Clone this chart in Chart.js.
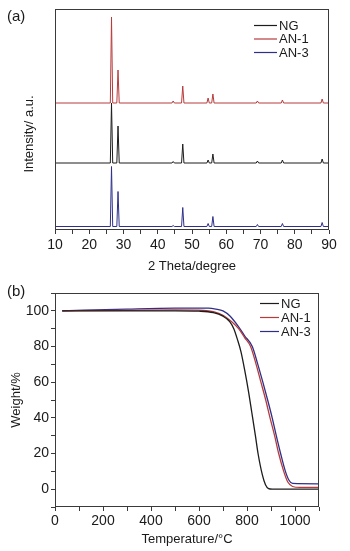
<!DOCTYPE html>
<html>
<head>
<meta charset="utf-8">
<script src="https://cdn.jsdelivr.net/npm/chart.js@4.4.1/dist/chart.umd.min.js"></script>
<style>
  body { margin: 0; background: #fff; width: 350px; height: 551px; position: relative; overflow: hidden;
         font-family: "Liberation Sans", Arial, sans-serif; }
  .panel { position: absolute; left: 0; width: 350px; }
  #wrapA { top: 0; height: 275px; }
  #wrapB { top: 275px; height: 276px; }
  .tag { position: absolute; left: 7px; font-size: 15px; color: #1a1a1a; line-height: 17px; }
</style>
</head>
<body>
<div class="panel" id="wrapA"><canvas id="xrdChart"></canvas></div>
<div class="panel" id="wrapB"><canvas id="tgaChart"></canvas></div>
<div class="tag" style="top:7px">(a)</div>
<div class="tag" style="top:282px">(b)</div>

<script>
// =====================
// DATA
// =====================
const seriesNames = ['NG', 'AN-1', 'AN-3'];

// (a) XRD: peak positions (2 theta) and peak heights above baseline (a.u.)
const twoTheta = [26.5, 28.4, 44.5, 47.3, 54.7, 56.1, 69.1, 76.4, 88.0];
const ngPeaks  = [60, 37, 1.5, 19, 3, 9, 2, 3, 4];
const an1Peaks = [86, 33, 2, 17, 5, 9, 2, 3, 4];
const an3Peaks = [60, 35, 1, 19, 3, 10, 2, 3, 4];
// vertical stacking offsets of each pattern (a.u.)
const ngOffset = 67;
const an1Offset = 127;
const an3Offset = 3.5;

// (b) TGA: temperature (°C) and weight (%)
const ngTemp    = [30, 300, 500, 600, 660, 700, 728, 745, 760, 775, 790, 806, 820, 835, 846, 864, 877, 890, 905, 1100];
const ngWeight  = [100, 100, 100, 99.8, 99, 97, 94, 90, 84, 77, 67, 55, 43, 30, 20, 8, 2.5, 0.3, 0, 0];
const an1Temp   = [30, 300, 500, 620, 660, 700, 735, 765, 790, 815, 838, 858, 878, 896, 915, 932, 953, 970, 990, 1020, 1100];
const an1Weight = [100, 100.3, 100.5, 100.3, 99.5, 97.5, 94, 90, 85, 80, 70, 60, 50, 40, 30, 20, 10, 4, 1.5, 1, 1];
const an3Temp   = [30, 300, 500, 640, 670, 700, 730, 760, 790, 822, 845, 866, 886, 905, 922, 940, 960, 975, 990, 1100];
const an3Weight = [100, 101, 101.5, 101.5, 101, 100, 97, 92, 86, 80, 70, 60, 50, 40, 30, 20, 10, 5, 3.2, 3];

const lineColors = ['#1c1c1c', '#b73b3b', '#2f2f8a'];

// =====================
// HELPERS
// =====================
function xrdProfile(heights, offset) {
  const pts = [{ x: 10, y: offset }];
  twoTheta.forEach((t, i) => {
    pts.push({ x: t - 0.35, y: offset }, { x: t, y: offset + heights[i] }, { x: t + 0.35, y: offset });
  });
  pts.push({ x: 90, y: offset });
  return pts;
}

function pairs(xs, ys) {
  return xs.map((x, i) => ({ x, y: ys[i] }));
}

const FONT = '"Liberation Sans", Arial, sans-serif';
const INK = '#1a1a1a';
const AXIS = '#3a3a3a';

// frame round the plot area
const frameBox = {
  id: 'frameBox',
  afterDraw(chart) {
    const { ctx, chartArea: a } = chart;
    ctx.save();
    ctx.strokeStyle = AXIS;
    ctx.lineWidth = 1;
    ctx.strokeRect(a.left + 0.5, a.top + 0.5, a.right - a.left - 1, a.bottom - a.top - 1);
    ctx.restore();
  }
};

// legend drawn inside the plot area, top right
const insideLegend = {
  id: 'insideLegend',
  afterDraw(chart, args, opts) {
    const { ctx, chartArea: a } = chart;
    ctx.save();
    ctx.font = '13px ' + FONT;
    ctx.textBaseline = 'middle';
    ctx.fillStyle = INK;
    chart.data.datasets.forEach((ds, i) => {
      const y = a.top + opts.firstRow + i * opts.rowGap;
      ctx.strokeStyle = ds.borderColor;
      ctx.lineWidth = 1.2;
      ctx.beginPath();
      ctx.moveTo(a.right - opts.lineStart, y + 0.5);
      ctx.lineTo(a.right - opts.lineStart + opts.lineLen, y + 0.5);
      ctx.stroke();
      ctx.fillText(ds.label, a.right - opts.textStart, y + 1);
    });
    ctx.restore();
  }
};

function tickGrid() {
  return { display: true, drawOnChartArea: false, drawTicks: true, tickLength: 4, tickColor: AXIS };
}

// =====================
// (a) XRD CHART
// =====================
new Chart(document.getElementById('xrdChart'), {
  type: 'line',
  data: {
    datasets: [
      { label: seriesNames[0], data: xrdProfile(ngPeaks, ngOffset), borderColor: lineColors[0] },
      { label: seriesNames[1], data: xrdProfile(an1Peaks, an1Offset), borderColor: lineColors[1] },
      { label: seriesNames[2], data: xrdProfile(an3Peaks, an3Offset), borderColor: lineColors[2] }
    ].map(d => Object.assign(d, { borderWidth: 1, pointRadius: 0, tension: 0, fill: false }))
  },
  options: {
    responsive: true,
    maintainAspectRatio: false,
    animation: false,
    events: [],
    layout: { padding: { top: 9, right: 21, left: 0, bottom: 0 } },
    plugins: {
      legend: { display: false },
      tooltip: { enabled: false },
      insideLegend: { firstRow: 16, rowGap: 13.5, lineStart: 75, lineLen: 23, textStart: 50 }
    },
    scales: {
      x: {
        type: 'linear',
        min: 10, max: 90,
        border: { display: false },
        grid: tickGrid(),
        ticks: {
          stepSize: 5, autoSkip: false, maxRotation: 0, padding: 3,
          color: INK, font: { family: FONT, size: 14 },
          callback: v => (v % 10 === 0 ? v : '')
        },
        title: { display: true, text: '2 Theta/degree', color: INK, font: { family: FONT, size: 13 }, padding: { top: 0, bottom: 1 } },
        afterFit: s => { s.height = 45; }
      },
      y: {
        min: 0, max: 221,
        border: { display: false },
        grid: { display: false },
        ticks: { display: false },
        title: { display: true, text: 'Intensity/ a.u.        ', color: INK, font: { family: FONT, size: 13 }, padding: { top: 22, bottom: 0 } },
        afterFit: s => { s.width = 55; }
      }
    }
  },
  plugins: [frameBox, insideLegend]
});

// =====================
// (b) TGA CHART
// =====================
new Chart(document.getElementById('tgaChart'), {
  type: 'line',
  data: {
    datasets: [
      { label: seriesNames[0], data: pairs(ngTemp, ngWeight), borderColor: lineColors[0] },
      { label: seriesNames[1], data: pairs(an1Temp, an1Weight), borderColor: lineColors[1] },
      { label: seriesNames[2], data: pairs(an3Temp, an3Weight), borderColor: lineColors[2] }
    ].map(d => Object.assign(d, { borderWidth: 1.3, pointRadius: 0, cubicInterpolationMode: 'monotone', fill: false }))
  },
  options: {
    responsive: true,
    maintainAspectRatio: false,
    animation: false,
    events: [],
    layout: { padding: { top: 18, right: 31, left: 0, bottom: 0 } },
    plugins: {
      legend: { display: false },
      tooltip: { enabled: false },
      insideLegend: { firstRow: 10, rowGap: 14, lineStart: 59, lineLen: 19, textStart: 38 }
    },
    scales: {
      x: {
        type: 'linear',
        min: 0, max: 1100,
        border: { display: false },
        grid: tickGrid(),
        ticks: {
          stepSize: 100, autoSkip: false, maxRotation: 0, padding: 2,
          color: INK, font: { family: FONT, size: 14 },
          callback: v => (v % 200 === 0 ? v : '')
        },
        title: { display: true, text: 'Temperature/°C', color: INK, font: { family: FONT, size: 13 }, padding: { top: 0, bottom: 4 } },
        afterFit: s => { s.height = 44; }
      },
      y: {
        min: -10, max: 110,
        border: { display: false },
        grid: tickGrid(),
        ticks: {
          stepSize: 10, autoSkip: false, padding: 2,
          color: INK, font: { family: FONT, size: 14 },
          callback: v => (v % 20 === 0 && v >= 0 && v <= 100 ? v : '')
        },
        title: { display: true, text: 'Weight/%', color: INK, font: { family: FONT, size: 13 }, padding: { top: 9, bottom: 0 } },
        afterFit: s => { s.width = 55; }
      }
    }
  },
  plugins: [frameBox, insideLegend]
});
</script>
</body>
</html>
